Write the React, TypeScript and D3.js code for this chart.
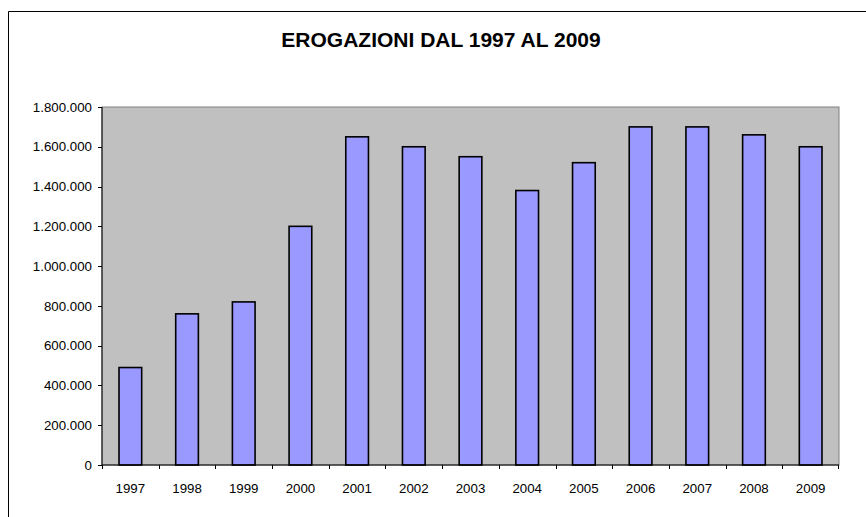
import React from "react";
import * as d3 from "d3";

const years = ["1997","1998","1999","2000","2001","2002","2003","2004","2005","2006","2007","2008","2009"];
const values = [490000, 760000, 820000, 1200000, 1650000, 1600000, 1550000, 1380000, 1520000, 1700000, 1700000, 1660000, 1600000];
const yTicks = [0, 200000, 400000, 600000, 800000, 1000000, 1200000, 1400000, 1600000, 1800000];
const title = "EROGAZIONI DAL 1997 AL 2009";

const W = 866, H = 517;
const plot = { left: 102, right: 839, top: 107, bottom: 465 };

const fmt = (v: number) => v === 0 ? "0" : d3.format(",")(v).replace(/,/g, ".");

export default function App() {
  const x = d3.scaleBand<string>().domain(years).range([plot.left, plot.right]).paddingInner(0.6).paddingOuter(0.3);
  const xc = d3.scaleBand<string>().domain(years).range([plot.left, plot.right]);
  const y = d3.scaleLinear().domain([0, 1800000]).range([plot.bottom, plot.top]);
  const font = "'Liberation Sans', Arial, sans-serif";
  return (
    <svg width={W} height={H} style={{ position: "absolute", left: 0, top: 0 }} fontFamily={font}>
      <rect x={0} y={0} width={W} height={H} fill="#fff" />
      <line x1={8.5} y1={11.5} x2={W} y2={11.5} stroke="#000" />
      <line x1={8.5} y1={11.5} x2={8.5} y2={H} stroke="#000" />
      <text x={441} y={47} textAnchor="middle" fontWeight="bold" fontSize={21} fill="#000">{title}</text>
      <rect x={plot.left} y={plot.top} width={plot.right - plot.left} height={plot.bottom - plot.top} fill="#C0C0C0" stroke="#808080" strokeWidth={1} />
      {years.map((yr, i) => (
        <rect key={yr} x={x(yr)!} y={y(values[i])} width={x.bandwidth()} height={plot.bottom - y(values[i])}
          fill="#9999FF" stroke="#000" strokeWidth={1.6} />
      ))}
      <line x1={plot.left} y1={plot.top} x2={plot.left} y2={plot.bottom} stroke="#000" />
      <line x1={plot.left} y1={plot.bottom} x2={plot.right} y2={plot.bottom} stroke="#000" />
      {yTicks.map(t => (
        <g key={t}>
          <line x1={plot.left - 4} x2={plot.left} y1={Math.round(y(t)) + 0.5} y2={Math.round(y(t)) + 0.5} stroke="#000" />
          <text x={plot.left - 10} y={y(t)} dy="0.35em" textAnchor="end" fontSize={13.3} fill="#000">{fmt(t)}</text>
        </g>
      ))}
      {years.map((yr, i) => (
        <line key={"t" + yr} x1={Math.round(xc(yr)!) + 0.5} x2={Math.round(xc(yr)!) + 0.5} y1={plot.bottom} y2={plot.bottom + 4} stroke="#000" />
      ))}
      <line x1={plot.right - 0.5} x2={plot.right - 0.5} y1={plot.bottom} y2={plot.bottom + 4} stroke="#000" />
      {years.map(yr => (
        <text key={"l" + yr} x={xc(yr)! + xc.bandwidth() / 2} y={492.5} textAnchor="middle" fontSize={13.3} fill="#000">{yr}</text>
      ))}
    </svg>
  );
}
